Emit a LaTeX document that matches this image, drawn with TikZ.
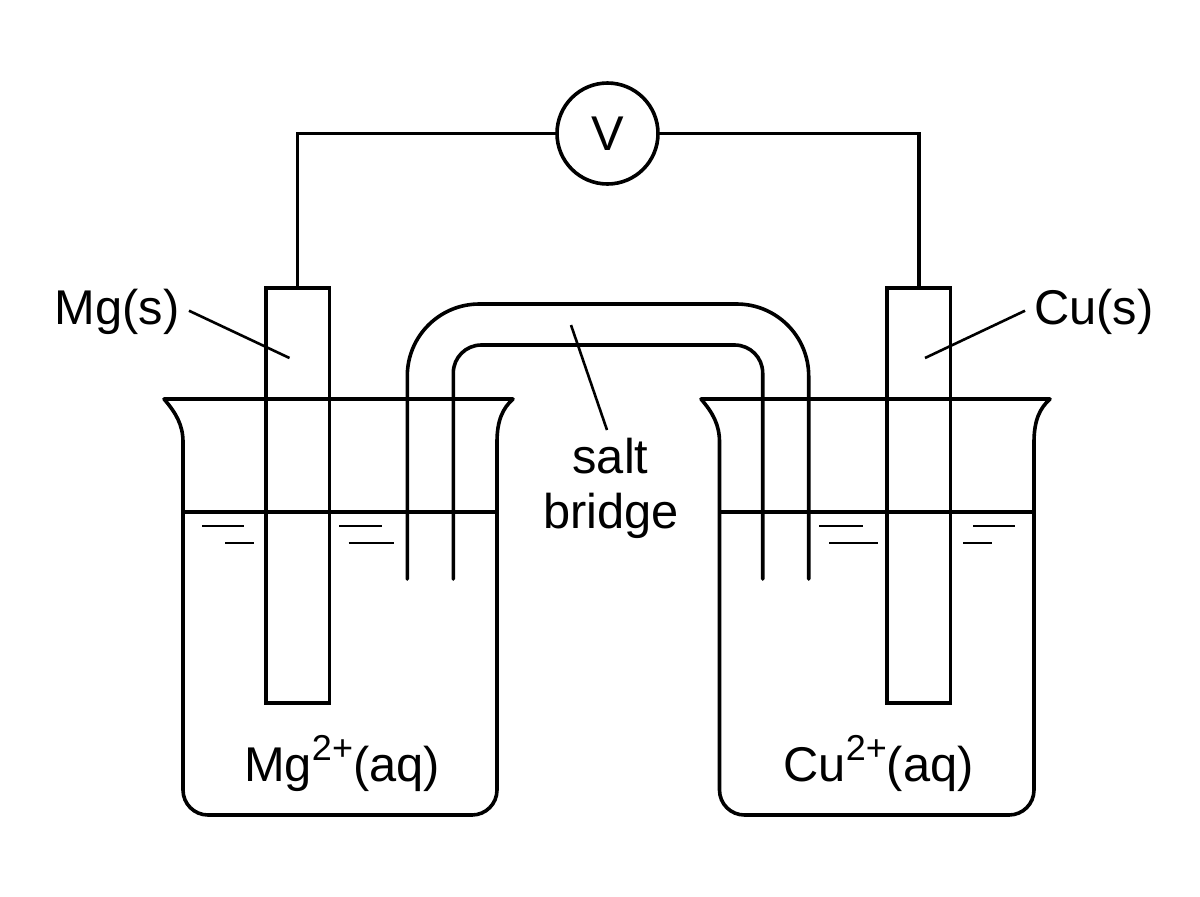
\documentclass[tikz,border=0pt]{standalone}
\usepackage{fontspec}
\setmainfont{Liberation Sans}
\newcommand{\supsc}[1]{\raisebox{10.5pt}{\fontsize{18}{20}\selectfont #1}}
\tikzset{
  glass/.style={line width=1.8pt,line join=round,line cap=round},
  wire/.style={line width=1.8pt},
  electrode/.style={draw,line width=1.8pt,rectangle,minimum width=31.8pt,minimum height=207.5pt,inner sep=0pt,outer sep=0pt},
  meter/.style={draw,line width=1.8pt,circle,minimum size=50.5pt,inner sep=0pt,outer sep=0pt,font=\fontsize{24.4}{28}\selectfont},
  lbl/.style={inner sep=0pt,outer sep=0pt,anchor=base,font=\fontsize{24.4}{28}\selectfont},
  pointer/.style={line width=1.3pt},
  ripple/.style={line width=1.2pt}
}
\begin{document}
\begin{tikzpicture}[x=0.5pt,y=-0.5pt]
\useasboundingbox (0,0) rectangle (1200,896);
% electrodes and voltmeter
\node[electrode] (elL) at (297.5,495.5) {};
\node[electrode] (elR) at (918.7,495.5) {};
\node[meter] (V) at (607.5,133.5) {\raisebox{-0.5pt}{V}};
\draw[wire] (elL.north) |- (V.west);
\draw[wire] (elR.north) |- (V.east);
% left beaker
\draw[glass] (164,399) -- (513,399)
  .. controls (503,408) and (497,420) .. (497,442)
  [rounded corners=12.5pt] -- (497,815) -- (183,815) [sharp corners] -- (183,442)
  .. controls (183,425) and (176,413) .. cycle;
\coordinate (liqLa) at (183,511.7);
\coordinate (liqLb) at (497,511.7);
\draw[wire] (liqLa) -- (liqLb);
% right beaker
\draw[glass] (701,399) -- (1050,399)
  .. controls (1040,408) and (1034,420) .. (1034,442)
  [rounded corners=12.5pt] -- (1034,815) -- (719.5,815) [sharp corners] -- (719.5,442)
  .. controls (719.5,425) and (713,413) .. cycle;
\coordinate (liqRa) at (719.5,511.7);
\coordinate (liqRb) at (1034,511.7);
\draw[wire] (liqRa) -- (liqRb);
% salt bridge
\draw[glass,rounded corners=36pt] (407.3,579) -- (407.3,304) -- (808.7,304) -- (808.7,579);
\draw[glass,rounded corners=14pt] (453.3,579) -- (453.3,345) -- (762.7,345) -- (762.7,579);
% ripples
\foreach \a/\b/\y in {202/244/525.7,225/254/543,339/382/525.7,348.5/394/543,819/862.5/525.7,829/878/543,973/1014.5/525.7,963/992/543}
  \draw[ripple] (\a,\y) -- (\b,\y);
% labels
\node[lbl] (mg) at (117,324) {Mg(s)};
\node[lbl] (cu) at (1094,324) {Cu(s)};
\node[lbl] (salt) at (610.5,473) {salt};
\node[lbl] (bridge) at (611,528) {bridge};
\node[lbl] (mgaq) at (342,781) {Mg\supsc{2+}(aq)};
\node[lbl] (cuaq) at (878.5,781) {Cu\supsc{2+}(aq)};
% pointers
\coordinate (pMg) at (289.5,358);
\coordinate (pCu) at (925,358);
\coordinate (pSalt) at (571,325);
\draw[pointer] (189,310.7) -- (pMg);
\draw[pointer] (1025,310.7) -- (pCu);
\draw[pointer] (607,430) -- (pSalt);
\end{tikzpicture}
\end{document}
